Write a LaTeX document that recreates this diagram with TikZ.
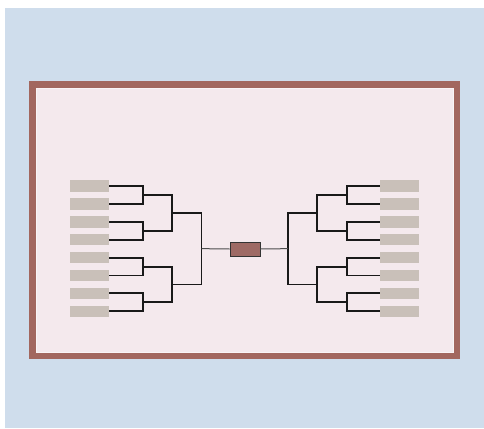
\documentclass[tikz,border=0pt]{standalone}
\usepackage{tikz}
\usetikzlibrary{positioning}
\definecolor{bgblue}{HTML}{CFDDEC}
\definecolor{framebrown}{HTML}{A2675F}
\definecolor{panelpink}{HTML}{F4E9ED}
\definecolor{leafgray}{HTML}{C9C0B9}
\definecolor{hubbrown}{HTML}{9E6A65}
\begin{document}
\begin{tikzpicture}[x=1pt,y=-1pt,
    leaf/.style={rectangle, fill=leafgray, minimum width=39pt, minimum height=11.5pt, inner sep=0pt},
    hub/.style={rectangle, draw=black!80, line width=0.8pt, fill=hubbrown, minimum width=30pt, minimum height=14pt, inner sep=0pt},
    bracket/.style={line width=1.9pt, draw=black!90},
    stem/.style={line width=1pt, draw=black!70}]
        % background and frame
        \useasboundingbox (0,0) rectangle (484,428);
        \fill[white] (0,0) rectangle (484,428);
        \fill[bgblue] (5,8) rectangle (484,428);
        \draw[framebrown, line width=6.5pt, fill=panelpink] (32.25,84.25) rectangle (456.75,355.75);
        \draw[white!50!panelpink, line width=0.8pt] (36,88) rectangle (453,352);
        % hub
        \node[hub] (hub) at (245,249) {};
        % left leaves
        \node[leaf] (l1) at (89.5,186) {};
        \node[leaf] (l2) at (89.5,203.9) {};
        \node[leaf] (l3) at (89.5,221.8) {};
        \node[leaf] (l4) at (89.5,239.7) {};
        \node[leaf] (l5) at (89.5,257.6) {};
        \node[leaf] (l6) at (89.5,275.5) {};
        \node[leaf] (l7) at (89.5,293.4) {};
        \node[leaf] (l8) at (89.5,311.3) {};
        % right leaves
        \node[leaf] (r1) at (399.5,186) {};
        \node[leaf] (r2) at (399.5,203.9) {};
        \node[leaf] (r3) at (399.5,221.8) {};
        \node[leaf] (r4) at (399.5,239.7) {};
        \node[leaf] (r5) at (399.5,257.6) {};
        \node[leaf] (r6) at (399.5,275.5) {};
        \node[leaf] (r7) at (399.5,293.4) {};
        \node[leaf] (r8) at (399.5,311.3) {};
        % 1st layer joints
        \coordinate (la1) at (143,194.95);
        \coordinate (la2) at (143,230.75);
        \coordinate (la3) at (143,266.55);
        \coordinate (la4) at (143,302.35);
        \coordinate (ra1) at (347,194.95);
        \coordinate (ra2) at (347,230.75);
        \coordinate (ra3) at (347,266.55);
        \coordinate (ra4) at (347,302.35);
        % 2nd layer joints
        \coordinate (lb1) at (172,212.85);
        \coordinate (lb2) at (172,284.45);
        \coordinate (rb1) at (317,212.85);
        \coordinate (rb2) at (317,284.45);
        % 3rd layer joints
        \coordinate (lc) at (201.5,248.65);
        \coordinate (rc) at (288,248.65);

        % Now the brackets
        \draw[bracket] (l1.east) -| (la1) |- (l2.east);
        \draw[bracket] (l3.east) -| (la2) |- (l4.east);
        \draw[bracket] (l5.east) -| (la3) |- (l6.east);
        \draw[bracket] (l7.east) -| (la4) |- (l8.east);
        \draw[bracket] (la1) -| (lb1) |- (la2);
        \draw[bracket] (la3) -| (lb2) |- (la4);
        \draw[bracket] (lb1) -| (lc) |- (lb2);
        \draw[bracket] (r1.west) -| (ra1) |- (r2.west);
        \draw[bracket] (r3.west) -| (ra2) |- (r4.west);
        \draw[bracket] (r5.west) -| (ra3) |- (r6.west);
        \draw[bracket] (r7.west) -| (ra4) |- (r8.west);
        \draw[bracket] (ra1) -| (rb1) |- (ra2);
        \draw[bracket] (ra3) -| (rb2) |- (ra4);
        \draw[bracket] (rb1) -| (rc) |- (rb2);
        \draw[stem] (lc) -- (hub.west);
        \draw[stem] (rc) -- (hub.east);
    \end{tikzpicture}
\end{document}
